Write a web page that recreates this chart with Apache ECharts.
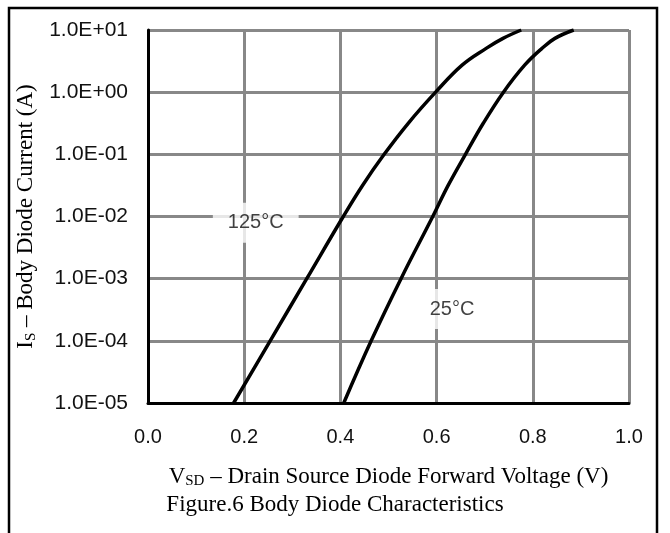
<!DOCTYPE html>
<html>
<head>
<meta charset="utf-8">
<script src="https://cdn.jsdelivr.net/npm/echarts@6/dist/echarts.min.js"></script>
<style>
html,body{margin:0;padding:0;background:#fff;}
#c{width:670px;height:533px;}
</style>
</head>
<body>
<div id="c"></div>
<script>
// Data
var vsd125 = [0.178, 0.254, 0.330, 0.406, 0.446, 0.491, 0.541, 0.598, 0.653, 0.703, 0.738, 0.776];
var is125  = [1e-5, 1e-4, 1e-3, 1e-2, 0.0316, 0.1, 0.316, 1.0, 2.72, 5.06, 7.33, 10];
var vsd25  = [0.407, 0.464, 0.526, 0.592, 0.624, 0.660, 0.697, 0.739, 0.783, 0.819, 0.846, 0.885];
var is25   = [1e-5, 1e-4, 1e-3, 1e-2, 0.0316, 0.1, 0.316, 1.0, 2.72, 5.06, 7.33, 10];
var xTickLabels = ['0.0', '0.2', '0.4', '0.6', '0.8', '1.0'];
var yTickLabels = ['1.0E-05', '1.0E-04', '1.0E-03', '1.0E-02', '1.0E-01', '1.0E+00', '1.0E+01'];
var curveLabels = ['125°C', '25°C'];
var curveLabelPos = [[0.224, 0.0079], [0.632, 3.25e-4]];

function pairs(xs, ys) { return xs.map(function (x, i) { return [x, ys[i]]; }); }

var chart = echarts.init(document.getElementById('c'), null, { renderer: 'canvas' });
var serif = '"Liberation Serif", "Times New Roman", serif';
var sans = '"Liberation Sans", Arial, sans-serif';

chart.setOption({
  animation: false,
  backgroundColor: '#fff',
  grid: { left: 148, right: 41, top: 30, bottom: 130, containLabel: false },
  xAxis: {
    type: 'value', min: 0, max: 1, interval: 0.2,
    axisLine: { show: true, onZero: false, lineStyle: { color: '#000', width: 3 } },
    axisTick: { show: false },
    splitLine: { show: true, lineStyle: { color: '#888', width: 3 } },
    axisLabel: {
      margin: 24, color: '#111', fontFamily: sans, fontSize: 20,
      formatter: function (v) { return xTickLabels[Math.round(v / 0.2)]; }
    },
    name: '{m|V}{s|SD}{m| – Drain Source Diode Forward Voltage (V)}',
    nameLocation: 'middle', nameGap: 62,
    nameTextStyle: {
      rich: {
        m: { fontFamily: serif, fontSize: 23, color: '#000' },
        s: { fontFamily: serif, fontSize: 15, color: '#000', padding: [9, 0, 0, 0] }
      }
    }
  },
  yAxis: {
    type: 'log', logBase: 10, min: 1e-5, max: 10,
    axisLine: { show: true, lineStyle: { color: '#000', width: 3 } },
    axisTick: { show: false },
    splitLine: { show: true, lineStyle: { color: '#888', width: 3 } },
    minorSplitLine: { show: false },
    axisLabel: {
      margin: 20, color: '#111', fontFamily: sans, fontSize: 21,
      formatter: function (v) { return yTickLabels[Math.round(Math.log10(v)) + 5]; }
    },
    name: '{m|I}{s|S}{m| – Body Diode Current (A)}',
    nameLocation: 'middle', nameGap: 102, nameRotate: 90,
    nameTextStyle: {
      rich: {
        m: { fontFamily: serif, fontSize: 23, color: '#000' },
        s: { fontFamily: serif, fontSize: 15, color: '#000', padding: [9, 0, 0, 0] }
      }
    }
  },
  series: [
    {
      type: 'line', data: pairs(vsd125, is125), smooth: 0.4, showSymbol: false,
      lineStyle: { color: '#000', width: 3.5 }, z: 5
    },
    {
      type: 'line', data: pairs(vsd25, is25), smooth: 0.4, showSymbol: false,
      lineStyle: { color: '#000', width: 3.5 }, z: 5
    },
    {
      type: 'scatter', symbolSize: 0, z: 4,
      data: curveLabelPos.map(function (p, i) { return { value: p, name: curveLabels[i] }; }),
      label: {
        show: true, position: 'inside', formatter: '{b}',
        fontFamily: sans, fontSize: 20, color: '#111',
        backgroundColor: '#fff', padding: [10, 15, 10, 15]
      }
    }
  ],
  graphic: [
    {
      type: 'text', left: 'center', top: 493,
      style: { text: 'Figure.6 Body Diode Characteristics', font: '23px ' + serif, fill: '#000' }
    },
    {
      type: 'rect', shape: { x: 9, y: 8, width: 648, height: 545 },
      style: { fill: 'none', stroke: '#000', lineWidth: 2.5 }, z: 100
    }
  ]
});
</script>
</body>
</html>
